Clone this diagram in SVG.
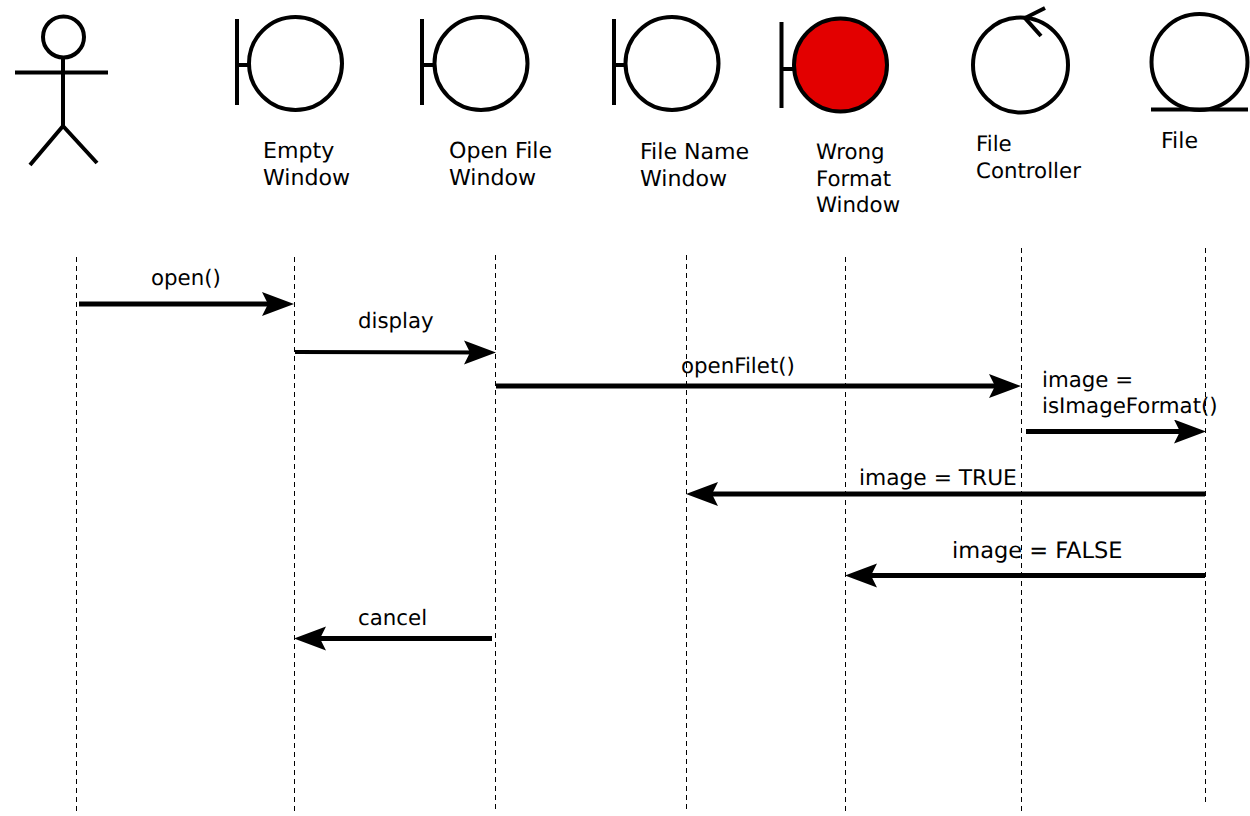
<svg xmlns="http://www.w3.org/2000/svg" width="1250" height="816" viewBox="0 0 1250 816">
<style>
.s{fill:none;stroke:#000;stroke-width:4}
.w{fill:#fff;stroke:#000;stroke-width:4}
.r{fill:#e30000;stroke:#000;stroke-width:4}
text{font-family:"DejaVu Sans",sans-serif;font-size:21.33px;fill:#000;text-rendering:geometricPrecision}
.b{font-size:22.100px}
.l{fill:none;stroke:#000;stroke-width:1;stroke-dasharray:5 4}
.m{fill:none;stroke:#000;stroke-width:5;marker-end:url(#a)}
.m3{fill:none;stroke:#000;stroke-width:4;marker-end:url(#a)}
</style>
<defs>
<marker id="a" markerUnits="userSpaceOnUse" markerWidth="36" markerHeight="26" refX="24" refY="12" orient="auto"><path d="M0 0L32 12L0 24L6 12Z" fill="#000"/></marker>
</defs>
<g id="lifelines">
<path class="l" d="M76.500 257V815"/><path class="l" d="M294.500 257V815"/><path class="l" d="M495.500 255V812"/><path class="l" d="M686.500 255V812"/><path class="l" d="M845.500 257V815"/><path class="l" d="M1021.500 248V812"/><path class="l" d="M1205.500 248V805"/>
</g>
<g id="connectors">
<path class="m" d="M79 304H286"/>
<path class="m3" d="M295 352L488 352.500"/>
<path class="m" d="M496 386H1013"/>
<path class="m" d="M1026 431.500H1198"/>
<path class="m" d="M1205 494H694"/>
<path class="m" d="M1205 575.500H853"/>
<path class="m" d="M492 638.500H302"/>
</g>
<g id="actor"><circle class="s" cx="63.500" cy="37" r="20.500"/><path class="s" d="M63 58V126M15 72.500H108M63 126L30 165M63 126L97 163"/></g>
<g id="empty-window"><path class="s" d="M237 19V105M237 65H248"/><circle class="w" cx="295.500" cy="63.500" r="46.500"/><text class="b" x="263" y="158">Empty</text><text class="b" x="263" y="185">Window</text></g>
<g id="open-file-window"><path class="s" d="M422 19V105M422 65H433"/><circle class="w" cx="481" cy="63.500" r="46.500"/><text class="b" x="449" y="158">Open File</text><text class="b" x="449" y="185">Window</text></g>
<g id="file-name-window"><path class="s" d="M614 19V105M614 65H625"/><circle class="w" cx="672" cy="63.500" r="46.500"/><text class="b" x="640" y="159">File Name</text><text class="b" x="640" y="186">Window</text></g>
<g id="wrong-format-window"><path class="s" d="M781.500 22V108M781.500 69H793"/><circle class="r" cx="840.500" cy="65" r="46.500"/><text x="816" y="159">Wrong</text><text x="816" y="186">Format</text><text x="816" y="212">Window</text></g>
<g id="file-controller"><circle class="w" cx="1020.500" cy="65" r="47.500"/><path class="s" d="M1045 8L1025 18L1041 36"/><text x="976" y="151">File</text><text x="976" y="178">Controller</text></g>
<g id="file"><circle class="w" cx="1199.500" cy="62" r="48"/><path class="s" d="M1151 109.500H1248"/><text class="b" x="1161" y="148">File</text></g>
<g id="labels">
<text x="151" y="285">open()</text>
<text x="358" y="328">display</text>
<text x="681" y="373">openFilet()</text>
<text x="1042" y="387">image =</text>
<text x="1042" y="413">isImageFormat()</text>
<text x="859" y="485" style="font-size:21.75px">image = TRUE</text>
<text x="952" y="558" style="font-size:22.500px">image = FALSE</text>
<text x="358" y="625">cancel</text>
</g>
</svg>
